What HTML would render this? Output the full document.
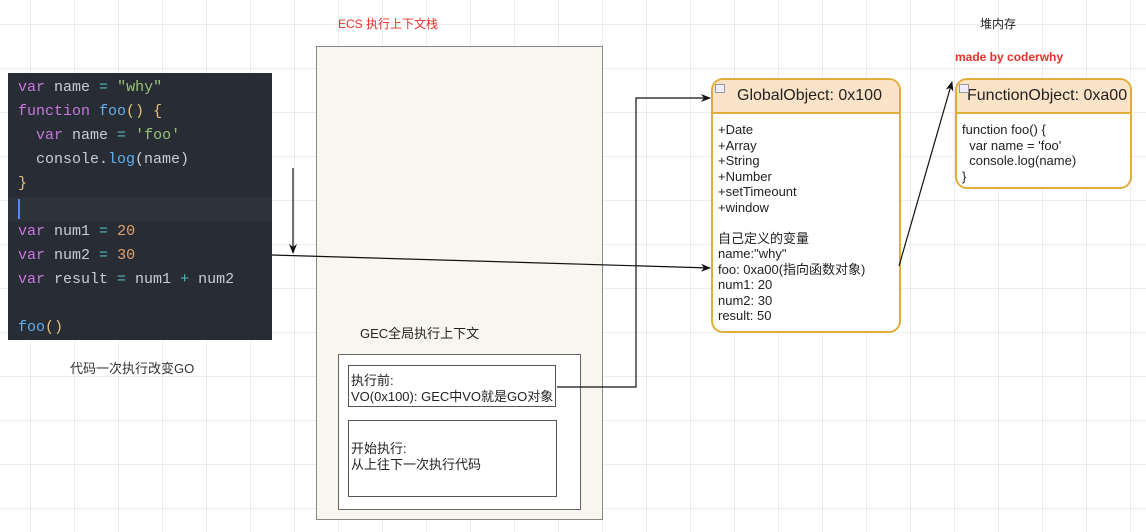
<!DOCTYPE html>
<html><head><meta charset="utf-8"><style>
body{margin:0;width:1146px;height:532px;overflow:hidden;background:#fff;
background-image:linear-gradient(#ececec 1px,transparent 1px),linear-gradient(90deg,#ececec 1px,transparent 1px);
background-size:44px 44px;background-position:30px 24px;position:relative;font-family:"Liberation Sans","Noto Sans CJK SC",sans-serif;}
.a{position:absolute}
.code{left:8px;top:73px;width:264px;height:267px;background:#282c34;font-family:"Liberation Mono",monospace;font-size:15px;color:#c8ccd4}
.code div{position:absolute;left:10px;white-space:pre}
.k{color:#c678dd}.f{color:#61afef}.s{color:#98c379}.n{color:#e5a06a}.y{color:#e5c07b}.o{color:#56b6c2}
.t{font-size:13px;color:#222;line-height:15.5px}
.box{border:2px solid #e0ac3a;border-radius:12px;background:#fff;overflow:hidden}
.hd{background:#fbe3c8;border-bottom:2px solid #e0ac3a;height:32px;font-size:16px;color:#222;line-height:32px}
</style></head><body>
<div class="a code">
<div style="top:6px"><span class="k">var</span> name <span class="o">=</span> <span class="s">"why"</span></div>
<div style="top:30px"><span class="k">function</span> <span class="f">foo</span><span class="y">()</span> <span class="y">{</span></div>
<div style="top:54px">  <span class="k">var</span> name <span class="o">=</span> <span class="s">'foo'</span></div>
<div style="top:78px">  console.<span class="f">log</span>(name)</div>
<div style="top:102px"><span class="y">}</span></div>
<div style="top:124px;left:0;width:264px;height:24px;background:#2e333b"></div>
<div style="top:126px;left:10px;width:2px;height:20px;background:#528bff"></div>
<div style="top:150px"><span class="k">var</span> num1 <span class="o">=</span> <span class="n">20</span></div>
<div style="top:174px"><span class="k">var</span> num2 <span class="o">=</span> <span class="n">30</span></div>
<div style="top:198px"><span class="k">var</span> result <span class="o">=</span> num1 <span class="o">+</span> num2</div>
<div style="top:246px"><span class="f">foo</span><span class="y">()</span></div>
</div>
<div class="a" style="left:70px;top:358px;font-size:13px;color:#333">代码一次执行改变GO</div>
<div class="a" style="left:338px;top:15px;font-size:12px;color:#e8302a">ECS 执行上下文栈</div>
<div class="a" style="left:980px;top:15px;font-size:12px;color:#222">堆内存</div>
<div class="a" style="left:955px;top:50px;font-size:12px;color:#e8302a;font-weight:bold">made by coderwhy</div>
<div class="a" style="left:316px;top:46px;width:285px;height:472px;background:#f8f6ef;border:1px solid #888"></div>
<div class="a" style="left:360px;top:323px;font-size:13px;color:#222">GEC全局执行上下文</div>
<div class="a" style="left:338px;top:354px;width:241px;height:154px;background:#fff;border:1px solid #666"></div>
<div class="a t" style="left:348px;top:365px;width:208px;height:42px;border:1.5px solid #555;background:#fff;padding-top:7px;box-sizing:border-box;padding-left:2px">执行前:<br>VO(0x100): GEC中VO就是GO对象</div>
<div class="a t" style="left:348px;top:420px;width:209px;height:77px;border:1.5px solid #555;background:#fff;padding-top:20px;box-sizing:border-box;padding-left:2px">开始执行:<br>从上往下一次执行代码</div>
<div class="a box" style="left:711px;top:78px;width:186px;height:251px">
<div class="hd" style="padding-left:24px">GlobalObject: 0x100</div>
<div class="t" style="padding:8px 5px">+Date<br>+Array<br>+String<br>+Number<br>+setTimeount<br>+window<br><br>自己定义的变量<br>name:"why"<br>foo: 0xa00(指向函数对象)<br>num1: 20<br>num2: 30<br>result: 50</div>
</div>
<div class="a box" style="left:955px;top:78px;width:173px;height:107px">
<div class="hd" style="padding-left:10px">FunctionObject: 0xa00</div>
<div class="t" style="padding:8px 5px;white-space:pre">function foo() {
  var name = 'foo'
  console.log(name)
}</div>
</div>
<div class="a" style="left:715px;top:84px;width:8px;height:7px;border:1px solid #999;background:#eef"></div>
<div class="a" style="left:959px;top:84px;width:8px;height:7px;border:1px solid #999;background:#eef"></div>
<svg class="a" style="left:0;top:0" width="1146" height="532">
<defs><marker id="m" markerWidth="10" markerHeight="8" refX="9" refY="4" orient="auto" markerUnits="userSpaceOnUse"><path d="M0,0 L10,4 L0,8 L3,4z" fill="#111"/></marker></defs>
<g stroke="#111" stroke-width="1.2" fill="none">
<line x1="293" y1="168" x2="293" y2="253" marker-end="url(#m)"/>
<line x1="272" y1="255" x2="710" y2="268" marker-end="url(#m)"/>
<polyline points="557,387 636,387 636,98 710,98" marker-end="url(#m)"/>
<line x1="899" y1="266" x2="952" y2="82" marker-end="url(#m)"/>
</g></svg>
</body></html>
